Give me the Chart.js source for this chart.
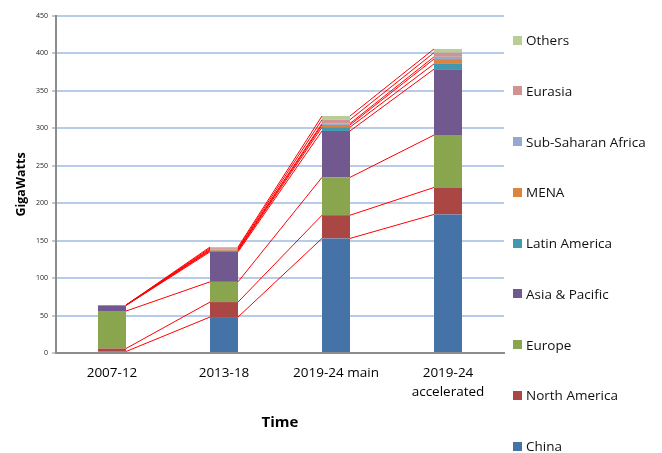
<!DOCTYPE html>
<html>
<head>
<meta charset="utf-8">
<script src="https://cdn.jsdelivr.net/npm/chart.js@4/dist/chart.umd.min.js"></script>
<style>
  html, body { margin: 0; padding: 0; background: #fff; }
  #wrap { position: relative; width: 662px; height: 453px; }
  #legend { position: absolute; left: 0; top: 0; width: 662px; height: 453px; pointer-events: none; }
  .li { position: absolute; left: 513px; height: 16px; display: flex; align-items: center; font-family: "Open Sans", sans-serif; font-size: 13.5px; color: #111; white-space: nowrap; }
  .sw { width: 9px; height: 9px; margin-right: 4px; }
</style>
</head>
<body>
<div id="wrap">
  <canvas id="c" width="662" height="453"></canvas>
  <div id="legend"></div>
</div>
<script>
const categories = ['2007-12', '2013-18', '2019-24 main', ['2019-24', 'accelerated']];
const seriesNames = ['China', 'North America', 'Europe', 'Asia & Pacific', 'Latin America', 'MENA', 'Sub-Saharan Africa', 'Eurasia', 'Others'];
const china        = [2,   48,  153,  185];
const northAmerica = [4,   20,  31,   36];
const europe       = [50,  27,  50.5, 70];
const asiaPacific  = [7.5, 40,  62,   88];
const latinAmerica = [0.2, 1.5, 5,    7];
const mena         = [0.1, 1,   3,    6.5];
const subSaharan   = [0.1, 1,   2,    3];
const eurasia      = [0.1, 1.5, 5,    5.5];
const others       = [0.1, 1.5, 5,    5];
const yTicks = [0, 50, 100, 150, 200, 250, 300, 350, 400, 450];

const seriesValues = [china, northAmerica, europe, asiaPacific, latinAmerica, mena, subSaharan, eurasia, others];
const colors = ['#4572A7', '#AA4643', '#89A54E', '#71588F', '#4198AF', '#DB843D', '#93A9CF', '#D19392', '#B9CD96'];

const datasets = seriesNames.map((n, i) => ({
  label: n,
  data: seriesValues[i],
  backgroundColor: colors[i],
  borderWidth: 0,
  barPercentage: 0.5,
  categoryPercentage: 0.5
}));

const seriesLines = {
  id: 'seriesLines',
  afterDatasetsDraw(chart) {
    const ctx = chart.ctx;
    ctx.save();
    ctx.strokeStyle = '#ff0000';
    ctx.lineWidth = 1;
    chart.data.datasets.forEach((ds, d) => {
      const els = chart.getDatasetMeta(d).data;
      for (let i = 0; i < els.length - 1; i++) {
        const a = els[i], b = els[i + 1];
        ctx.beginPath();
        ctx.moveTo(a.x + a.width / 2, a.y);
        ctx.lineTo(b.x - b.width / 2, b.y);
        ctx.stroke();
      }
    });
    ctx.restore();
  }
};

new Chart(document.getElementById('c'), {
  type: 'bar',
  data: { labels: categories, datasets },
  plugins: [seriesLines],
  options: {
    responsive: false,
    animation: false,
    layout: { padding: { top: 16, right: 158, left: 0, bottom: 0 } },
    plugins: { legend: { display: false }, tooltip: { enabled: false } },
    scales: {
      x: {
        stacked: true,
        grid: { display: true, drawOnChartArea: false, drawTicks: false },
        border: { display: true, color: '#8c8c8c', width: 2 },
        ticks: { color: '#000', font: { family: 'Open Sans', size: 13.5, lineHeight: 1.4 }, padding: 11, maxRotation: 0, autoSkip: false },
        title: { display: true, text: 'Time', color: '#000', font: { family: 'Open Sans', size: 15, weight: 'bold' }, padding: { top: 0, bottom: 21 } },
        afterFit(s) { s.height = 100; }
      },
      y: {
        stacked: true,
        min: 0, max: 450,
        afterBuildTicks(s) { s.ticks = yTicks.map(v => ({ value: v })); },
        grid: { color: '#b8ccea', lineWidth: 2, tickColor: '#8c8c8c', tickLength: 4, tickWidth: 1 },
        border: { display: true, color: '#8c8c8c', width: 2 },
        ticks: { color: '#222', font: { family: 'Open Sans', size: 7 }, padding: 4 },
        title: { display: true, text: 'GigaWatts', color: '#000', font: { family: 'Open Sans', size: 12.5, weight: 'bold' }, padding: { top: 14, bottom: 0 } },
        afterFit(s) { s.width = 56; }
      }
    }
  }
});

const legend = document.getElementById('legend');
for (let k = seriesNames.length - 1, row = 0; k >= 0; k--, row++) {
  const item = document.createElement('div');
  item.className = 'li';
  item.style.top = (32 + row * 50.75) + 'px';
  const sw = document.createElement('span');
  sw.className = 'sw';
  sw.style.background = colors[k];
  const t = document.createElement('span');
  t.textContent = seriesNames[k];
  item.appendChild(sw);
  item.appendChild(t);
  legend.appendChild(item);
}
</script>
</body>
</html>
